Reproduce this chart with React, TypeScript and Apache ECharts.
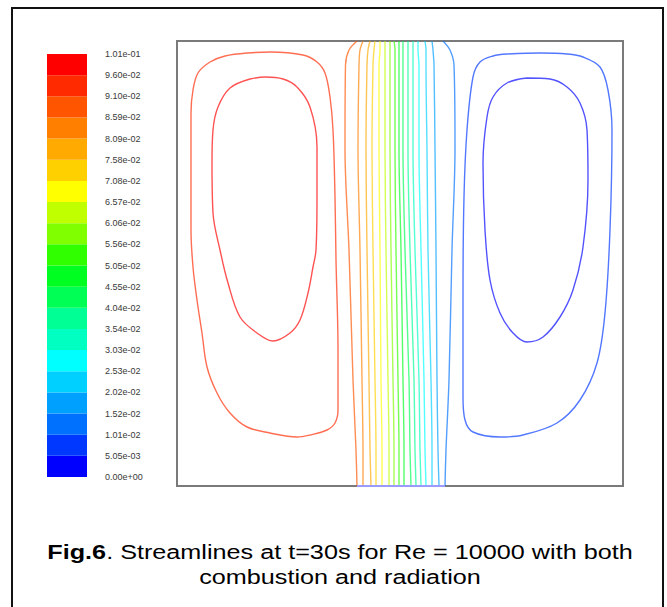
import React, { useEffect, useRef } from "react";
import * as echarts from "echarts";

// ---- colour bar ----
const colorbarLabels = [
  "0.00e+00", "5.05e-03", "1.01e-02", "1.52e-02", "2.02e-02", "2.53e-02",
  "3.03e-02", "3.54e-02", "4.04e-02", "4.55e-02", "5.05e-02", "5.56e-02",
  "6.06e-02", "6.57e-02", "7.08e-02", "7.58e-02", "8.09e-02", "8.59e-02",
  "9.10e-02", "9.60e-02", "1.01e-01",
];
const colorbarStep = 0.00505;
// band colours, bottom (0) to top (19)
const bandColors = [
  "#0000ff", "#0038ff", "#0070ff", "#00a0ff", "#00d0ff", "#00ffff",
  "#00ffc0", "#00ff95", "#00ff55", "#00ff20", "#30ff00", "#80ff00",
  "#c0ff00", "#ffff00", "#ffd000", "#ffaa00", "#ff8000", "#ff5500",
  "#ff2a00", "#ff0000",
];

// ---- streamlines, cavity coordinates (x 0..446, y 0..445, origin bottom-left) ----
const leftOuter: number[][] = [
  [70, 433], [93, 434], [126, 431], [140, 424], [148, 413], [153, 389], [156, 356],
  [158, 289], [159, 226], [161, 136], [161, 76], [158, 63], [150, 56], [133, 51],
  [120, 49], [93, 53], [70, 59], [53, 73], [40, 93], [30, 119], [25, 153], [20, 186],
  [16, 219], [14, 256], [14, 323], [14, 373], [16, 396], [21, 413], [33, 424],
  [48, 430], [70, 433],
];
const leftInner: number[][] = [
  [73, 407], [88, 409], [106, 407], [120, 399], [133, 379], [140, 339], [140, 289],
  [139, 236], [136, 219], [131, 193], [123, 166], [113, 153], [96, 145], [80, 153],
  [63, 169], [51, 203], [43, 236], [36, 273], [35, 323], [36, 356], [41, 379],
  [53, 398], [73, 407],
];
const rightOuter: number[][] = [
  [330, 432], [363, 433], [390, 432], [406, 429], [423, 419], [431, 396], [435, 356],
  [433, 256], [428, 173], [420, 123], [403, 86], [380, 63], [346, 51], [323, 49],
  [296, 54], [288, 66], [286, 89], [286, 189], [287, 289], [290, 356], [296, 409],
  [303, 424], [316, 430], [330, 432],
];
const rightInner: number[][] = [
  [350, 408], [373, 407], [390, 399], [403, 383], [410, 356], [411, 306], [406, 239],
  [396, 196], [383, 169], [366, 149], [350, 144], [336, 153], [323, 173], [313, 206],
  [308, 256], [306, 323], [310, 369], [316, 389], [330, 403], [350, 408],
];
// central jet streamlines: x positions at the heights in streamY
const streamY = [445, 436, 421, 336, 236, 106, 36, 0];
const streamX: number[][] = [
  [180, 172, 168.5, 168, 172, 176, 179, 180],
  [186, 183, 182, 181, 183, 185, 186, 186],
  [193, 191, 190, 189, 190, 192, 193, 194],
  [198, 197, 196, 195, 196, 198, 199, 199],
  [203, 203, 202, 202, 203, 204, 205, 205],
  [208, 208, 208, 208, 209, 211, 212, 212],
  [213, 213, 213, 213, 214, 216, 217, 217],
  [217, 218, 218, 218, 219, 221, 222, 222],
  [222, 222, 222, 222, 224, 226, 227, 227],
  [226, 226, 226, 226, 228, 232, 233, 234],
  [231, 231, 231, 231, 233, 237, 238, 239],
  [236, 236, 236, 236, 238, 242, 243, 244],
  [241, 241, 242, 242, 244, 247, 248, 249],
  [248, 249, 249, 250, 251, 254, 255, 255],
  [255, 256, 257, 258, 259, 260, 261, 262],
  [266, 273, 277, 278, 275, 272, 269, 268],
];
const inletX = [180, 268];

const FONT = "Liberation Sans, Arial, sans-serif";

export default function App() {
  const ref = useRef<HTMLDivElement>(null);
  useEffect(() => {
    if (!ref.current) return;
    const chart = echarts.init(ref.current, undefined, { renderer: "svg" });

    const lineSeries = (data: number[][], color: string, smooth = 0.35) => ({
      type: "line",
      xAxisIndex: 0,
      yAxisIndex: 0,
      data,
      showSymbol: false,
      symbol: "none",
      smooth,
      silent: true,
      lineStyle: { color, width: 1.4, opacity: 0.68 },
      z: 3,
    });

    const series: any[] = [];
    series.push(lineSeries(leftInner, bandColors[19]));
    series.push(lineSeries(leftOuter, bandColors[18]));
    streamX.forEach((xs, i) => {
      series.push(lineSeries(xs.map((x, j) => [x, streamY[j]]), bandColors[17 - i], 0.3));
    });
    series.push(lineSeries(rightOuter, bandColors[1]));
    series.push(lineSeries(rightInner, bandColors[0]));
    series.push({
      type: "line",
      xAxisIndex: 0,
      yAxisIndex: 0,
      data: inletX.map((x) => [x, 0]),
      showSymbol: false,
      symbol: "none",
      silent: true,
      lineStyle: { color: "#9a9aff", width: 2 },
      z: 4,
    });
    bandColors.forEach((c) => {
      series.push({
        type: "bar",
        xAxisIndex: 1,
        yAxisIndex: 1,
        stack: "cb",
        data: [colorbarStep],
        barWidth: "100%",
        silent: true,
        itemStyle: { color: c },
      });
    });

    chart.setOption({
      animation: false,
      backgroundColor: "#ffffff",
      grid: [
        {
          left: 177, top: 41, width: 446, height: 445,
          show: true, borderColor: "#7a7a7a", borderWidth: 2, backgroundColor: "#ffffff",
        },
        { left: 47, top: 54, width: 40, height: 423 },
      ],
      xAxis: [
        { type: "value", gridIndex: 0, min: 0, max: 446, show: false },
        { type: "category", gridIndex: 1, data: ["band"], show: false },
      ],
      yAxis: [
        { type: "value", gridIndex: 0, min: 0, max: 445, show: false },
        {
          type: "value", gridIndex: 1, min: 0, max: colorbarStep * 20, interval: colorbarStep,
          position: "right",
          axisLine: { show: false }, axisTick: { show: false }, splitLine: { show: false },
          axisLabel: {
            margin: 18, fontSize: 9, color: "#3a3a3a", fontFamily: FONT,
            formatter: (v: number) => colorbarLabels[Math.round(v / colorbarStep)] ?? "",
          },
        },
      ],
      series,
      graphic: [
        {
          type: "rect", silent: true,
          shape: { x: 12, y: 8, width: 651, height: 640 },
          style: { fill: "none", stroke: "#111", lineWidth: 2 },
        },
        {
          type: "text", x: 340, y: 552, scaleX: 1.2, silent: true,
          style: {
            text: "{b|Fig.6}. Streamlines at t=30s for Re = 10000 with both",
            x: 0, y: 0, align: "center", verticalAlign: "middle",
            fontSize: 21, fontFamily: FONT, fill: "#000",
            rich: { b: { fontWeight: "bold", fontSize: 21, fontFamily: FONT, fill: "#000" } },
          },
        },
        {
          type: "text", x: 340, y: 577, scaleX: 1.2, silent: true,
          style: {
            text: "combustion and radiation",
            x: 0, y: 0, align: "center", verticalAlign: "middle",
            fontSize: 21, fontFamily: FONT, fill: "#000",
          },
        },
      ],
    });
    return () => chart.dispose();
  }, []);
  return (
    <div
      ref={ref}
      style={{ position: "fixed", left: 0, top: 0, width: 667, height: 607, background: "#fff" }}
    />
  );
}
